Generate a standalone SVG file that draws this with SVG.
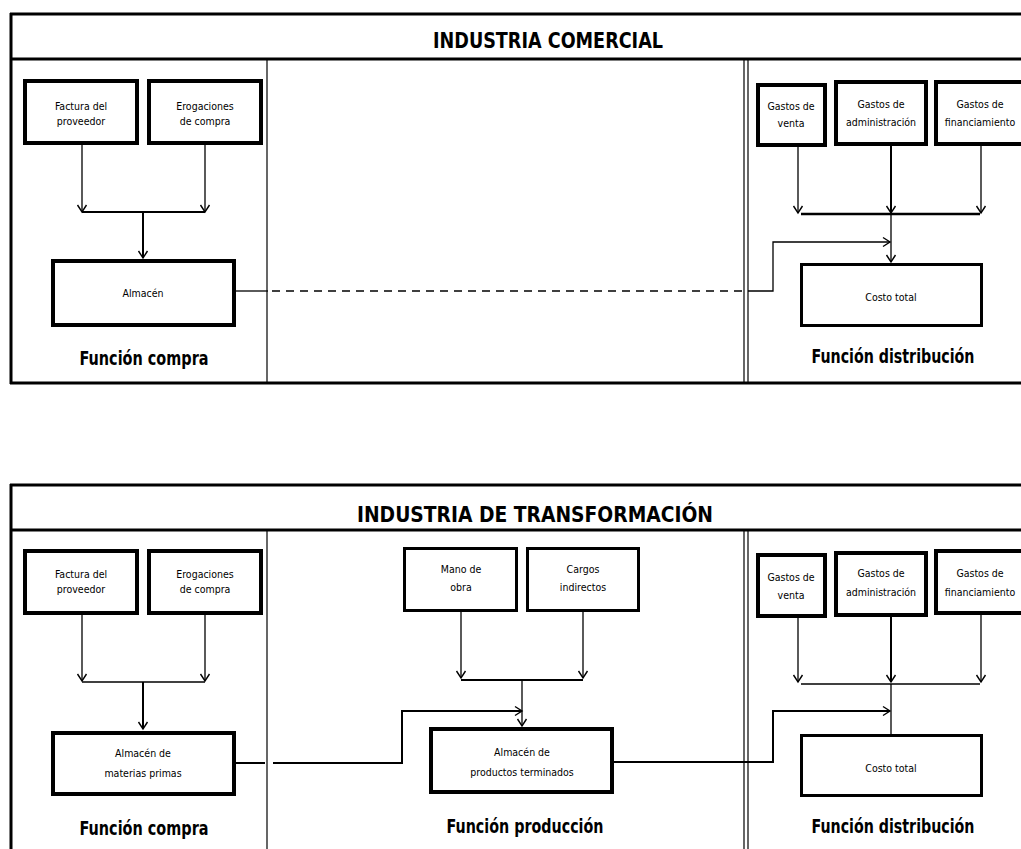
<svg xmlns="http://www.w3.org/2000/svg" width="1021" height="849" viewBox="0 0 1021 849">
<style>
.frame{stroke:#000;stroke-width:3;fill:none}
.thin{stroke:#000;stroke-width:1.2;fill:none}
.box{fill:#fff;stroke:#000;stroke-width:4}
.box2{fill:#fff;stroke:#000;stroke-width:3}
.t{font-family:"DejaVu Sans Condensed","DejaVu Sans",sans-serif;font-stretch:condensed;font-size:10.5px;text-anchor:middle;fill:#000}
.lab{font-family:"DejaVu Sans Condensed","DejaVu Sans",sans-serif;font-weight:bold;font-size:19px;text-anchor:middle;fill:#000}
.title{font-family:"DejaVu Sans Condensed","DejaVu Sans",sans-serif;font-weight:bold;font-size:21px;text-anchor:middle;fill:#000}
.c1{stroke:#000;stroke-width:1.3;fill:none}
.c2{stroke:#000;stroke-width:2;fill:none}
.c3{stroke:#000;stroke-width:2.6;fill:none}
</style>
<defs>
<marker id="ah" markerUnits="userSpaceOnUse" markerWidth="12" markerHeight="12" refX="9" refY="6" orient="auto">
<path d="M2,1.5 L9,6 L2,10.5" fill="none" stroke="#000" stroke-width="1.4"/>
</marker>
</defs>
<rect width="1021" height="849" fill="#fff"/>

<g id="frame-comercial">
<line class="frame" x1="10" y1="14" x2="1021" y2="14"/>
<line class="frame" x1="10" y1="59" x2="1021" y2="59"/>
<line class="frame" x1="10" y1="383" x2="1021" y2="383"/>
<line class="frame" x1="11" y1="13" x2="11" y2="384"/>
<line class="thin" x1="267" y1="59" x2="267" y2="383"/>
<line class="thin" x1="744" y1="59" x2="744" y2="383"/>
<line class="thin" x1="748" y1="59" x2="748" y2="383"/>
<text class="title" x="548" y="48" textLength="230" lengthAdjust="spacingAndGlyphs">INDUSTRIA COMERCIAL</text>
<text class="lab" x="144" y="365" textLength="129" lengthAdjust="spacingAndGlyphs">Función compra</text>
<text class="lab" x="893" y="363" textLength="163" lengthAdjust="spacingAndGlyphs">Función distribución</text>
</g>

<g id="frame-transformacion">
<line class="frame" x1="10" y1="485" x2="1021" y2="485"/>
<line class="frame" x1="10" y1="530" x2="1021" y2="530"/>
<line class="frame" x1="11" y1="484" x2="11" y2="849"/>
<line class="thin" x1="267" y1="530" x2="267" y2="849"/>
<line class="thin" x1="744" y1="530" x2="744" y2="849"/>
<line class="thin" x1="748" y1="530" x2="748" y2="849"/>
<text class="title" x="535" y="522" textLength="356" lengthAdjust="spacingAndGlyphs">INDUSTRIA DE TRANSFORMACIÓN</text>
<text class="lab" x="144" y="835" textLength="129" lengthAdjust="spacingAndGlyphs">Función compra</text>
<text class="lab" x="525" y="833" textLength="157" lengthAdjust="spacingAndGlyphs">Función producción</text>
<text class="lab" x="893" y="833" textLength="163" lengthAdjust="spacingAndGlyphs">Función distribución</text>
</g>

<g id="connectors">
<!-- top: compra -->
<line class="c1" x1="82" y1="145" x2="82" y2="212" marker-end="url(#ah)"/>
<line class="c1" x1="205" y1="145" x2="205" y2="212" marker-end="url(#ah)"/>
<line class="c2" x1="82" y1="212" x2="205" y2="212"/>
<line class="c2" x1="143" y1="212" x2="143" y2="258" marker-end="url(#ah)"/>
<!-- top: almacen to costo -->
<line class="c1" x1="236" y1="291" x2="268" y2="291"/>
<line class="c1" x1="272" y1="291" x2="744" y2="291" stroke-dasharray="8,6"/>
<polyline class="c1" points="748,291 773,291 773,242 890,242" marker-end="url(#ah)"/>
<!-- top: distribucion -->
<line class="c1" x1="798" y1="147" x2="798" y2="213" marker-end="url(#ah)"/>
<line class="c2" x1="891" y1="146" x2="891" y2="213" marker-end="url(#ah)"/>
<line class="c1" x1="981" y1="146" x2="981" y2="213" marker-end="url(#ah)"/>
<line class="c3" x1="801" y1="214" x2="980" y2="214"/>
<line class="c1" x1="891" y1="214" x2="891" y2="262" marker-end="url(#ah)"/>

<!-- bottom: compra -->
<line class="c1" x1="82" y1="615" x2="82" y2="681" marker-end="url(#ah)"/>
<line class="c1" x1="205" y1="615" x2="205" y2="681" marker-end="url(#ah)"/>
<line class="c1" x1="82" y1="682" x2="205" y2="682"/>
<line class="c2" x1="143" y1="682" x2="143" y2="729" marker-end="url(#ah)"/>
<!-- bottom: materias primas to productos -->
<line class="c2" x1="236" y1="763" x2="265" y2="763"/>
<polyline class="c2" points="273,763 402,763 402,711 522,711" marker-end="url(#ah)"/>
<!-- bottom: produccion -->
<line class="c1" x1="461" y1="612" x2="461" y2="678" marker-end="url(#ah)"/>
<line class="c1" x1="583" y1="612" x2="583" y2="678" marker-end="url(#ah)"/>
<line class="c2" x1="461" y1="680" x2="583" y2="680"/>
<line class="c1" x1="522" y1="680" x2="522" y2="726" marker-end="url(#ah)"/>
<!-- bottom: productos to costo -->
<polyline class="c2" points="614,762 773,762 773,711 890,711" marker-end="url(#ah)"/>
<!-- bottom: distribucion -->
<line class="c1" x1="798" y1="618" x2="798" y2="682" marker-end="url(#ah)"/>
<line class="c2" x1="891" y1="617" x2="891" y2="682" marker-end="url(#ah)"/>
<line class="c1" x1="981" y1="615" x2="981" y2="682" marker-end="url(#ah)"/>
<line class="c1" x1="801" y1="684" x2="980" y2="684"/>
<line class="c1" x1="891" y1="684" x2="891" y2="734"/>
</g>

<g id="factura-1">
<rect class="box" x="25" y="81" width="112" height="62"/>
<text class="t" x="81" y="110">Factura del</text>
<text class="t" x="81" y="125">proveedor</text>
</g>
<g id="erogaciones-1">
<rect class="box" x="149" y="81" width="112" height="62"/>
<text class="t" x="205" y="110">Erogaciones</text>
<text class="t" x="205" y="125">de compra</text>
</g>
<g id="almacen-1">
<rect class="box" x="53" y="261" width="181" height="64"/>
<text class="t" x="143" y="297">Almacén</text>
</g>
<g id="gastos-venta-1">
<rect class="box" x="758" y="85" width="67" height="60"/>
<text class="t" x="791" y="110">Gastos de</text>
<text class="t" x="791" y="127">venta</text>
</g>
<g id="gastos-admin-1">
<rect class="box" x="836" y="82" width="90" height="62"/>
<text class="t" x="881" y="108">Gastos de</text>
<text class="t" x="881" y="126">administración</text>
</g>
<g id="gastos-fin-1">
<rect class="box" x="936" y="82" width="90" height="62"/>
<text class="t" x="980" y="108">Gastos de</text>
<text class="t" x="980" y="126">financiamiento</text>
</g>
<g id="costo-1">
<rect class="box2" x="801.5" y="264.5" width="180" height="61"/>
<text class="t" x="891" y="301">Costo total</text>
</g>

<g id="factura-2">
<rect class="box" x="25" y="551" width="112" height="62"/>
<text class="t" x="81" y="578">Factura del</text>
<text class="t" x="81" y="593">proveedor</text>
</g>
<g id="erogaciones-2">
<rect class="box" x="149" y="551" width="112" height="62"/>
<text class="t" x="205" y="578">Erogaciones</text>
<text class="t" x="205" y="593">de compra</text>
</g>
<g id="almacen-mp">
<rect class="box" x="53" y="733" width="181" height="61"/>
<text class="t" x="143" y="757">Almacén de</text>
<text class="t" x="143" y="777">materias primas</text>
</g>
<g id="mano-obra">
<rect class="box2" x="404.5" y="548.5" width="112" height="62"/>
<text class="t" x="461" y="573">Mano de</text>
<text class="t" x="461" y="591">obra</text>
</g>
<g id="cargos-indirectos">
<rect class="box2" x="527.5" y="548.5" width="111" height="62"/>
<text class="t" x="583" y="573">Cargos</text>
<text class="t" x="583" y="591">indirectos</text>
</g>
<g id="almacen-pt">
<rect class="box" x="431" y="729" width="181" height="63"/>
<text class="t" x="522" y="756">Almacén de</text>
<text class="t" x="522" y="776">productos terminados</text>
</g>
<g id="gastos-venta-2">
<rect class="box" x="758" y="555" width="67" height="61"/>
<text class="t" x="791" y="581">Gastos de</text>
<text class="t" x="791" y="599">venta</text>
</g>
<g id="gastos-admin-2">
<rect class="box" x="836" y="553" width="90" height="62"/>
<text class="t" x="881" y="577">Gastos de</text>
<text class="t" x="881" y="596">administración</text>
</g>
<g id="gastos-fin-2">
<rect class="box" x="936" y="551" width="90" height="62"/>
<text class="t" x="980" y="577">Gastos de</text>
<text class="t" x="980" y="596">financiamiento</text>
</g>
<g id="costo-2">
<rect class="box2" x="801.5" y="735.5" width="180" height="60"/>
<text class="t" x="891" y="772">Costo total</text>
</g>
</svg>
